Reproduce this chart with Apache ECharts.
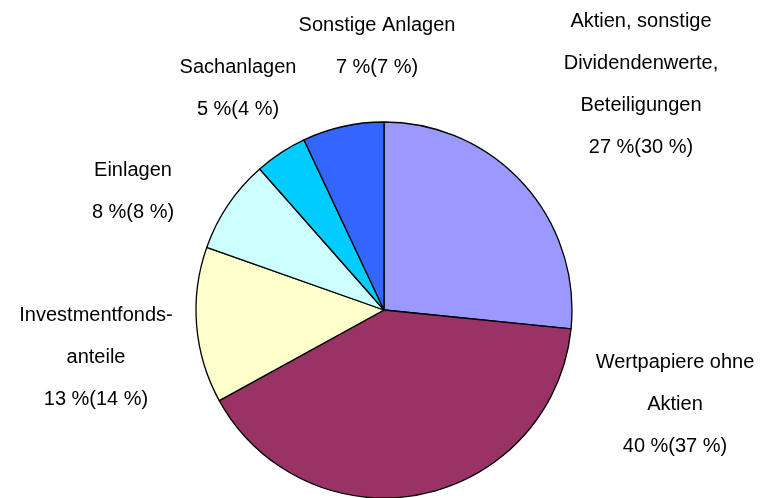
<!DOCTYPE html>
<html>
<head>
<meta charset="utf-8">
<script src="https://cdn.jsdelivr.net/npm/echarts@6/dist/echarts.min.js"></script>
<style>html,body{margin:0;padding:0;background:#fff}#c{width:771px;height:498px}</style>
</head>
<body>
<div id="c"></div>
<script>
const categories = ["Aktien, sonstige\nDividendenwerte,\nBeteiligungen", "Wertpapiere ohne\nAktien", "Investmentfonds-\nanteile", "Einlagen", "Sachanlagen", "Sonstige Anlagen"];
const shares = [26.6, 40.4, 13.4, 8.1, 4.5, 7.0];
const currentPct = [27, 40, 13, 8, 5, 7];
const previousPct = [30, 37, 14, 8, 4, 7];
const colors = ["#9999FF", "#993366", "#FFFFCC", "#CCFFFF", "#00CCFF", "#3366FF"];

const labelPos = [[641, 84], [675, 404], [96, 357], [133, 191], [238, 88], [377, 46]];

const chart = echarts.init(document.getElementById('c'), null, {renderer: 'canvas'});
chart.setOption({
  animation: false,
  backgroundColor: '#fff',
  series: [{
    type: 'pie',
    center: [384, 310],
    radius: 188,
    startAngle: 90,
    clockwise: true,
    silent: true,
    data: categories.map((n, i) => ({
      name: n,
      value: shares[i],
      itemStyle: {color: colors[i]},
      label: {formatter: n + '\n' + currentPct[i] + ' %(' + previousPct[i] + ' %)'}
    })),
    itemStyle: {borderColor: '#000', borderWidth: 1.3},
    label: {
      show: true,
      position: 'outside',
      color: '#000',
      fontFamily: 'Liberation Sans, Arial, sans-serif',
      fontSize: 20,
      lineHeight: 42,
      align: 'center'
    },
    labelLine: {show: false},
    labelLayout: function (p) {
      const pos = labelPos[p.dataIndex];
      return {x: pos[0], y: pos[1], align: 'center', verticalAlign: 'middle', hideOverlap: false, moveOverlap: false};
    }
  }]
});
</script>
</body>
</html>
